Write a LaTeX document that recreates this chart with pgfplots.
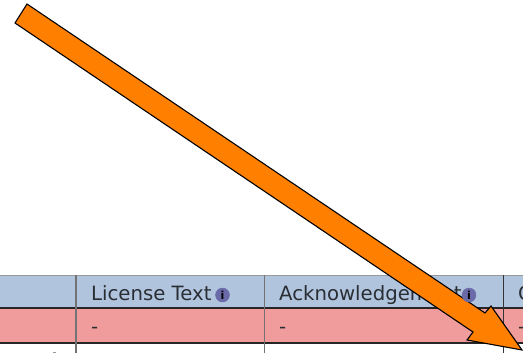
\documentclass[border=0pt]{standalone}
\usepackage{pgfplots}
\pgfplotsset{compat=1.18}
\usepackage{fontspec}
\setmainfont{DejaVu Sans}
\definecolor{hdr}{HTML}{B0C4DE}
\definecolor{rowred}{HTML}{F09C9C}
\definecolor{arrowc}{HTML}{FF8000}
\definecolor{info}{HTML}{6A6AA8}
\definecolor{txt}{HTML}{2A2E33}
\begin{document}
\begin{tikzpicture}
\path[use as bounding box,clip] (0,0) rectangle (523bp,353bp);
\begin{axis}[
  at={(0,0)},anchor=south west,
  width=523bp,height=353bp,scale only axis,
  xmin=0,xmax=523,ymin=0,ymax=353,y dir=reverse,
  hide axis,clip=true,
]
% table fills
\addplot[draw=none,fill=hdr] coordinates {(0,275) (523,275) (523,308) (0,308)} -- cycle;
\addplot[draw=none,fill=rowred] coordinates {(0,308) (523,308) (523,343) (0,343)} -- cycle;
% table lines
\addplot[draw=black!40,line width=0.9bp] coordinates {(0,275) (523,275)};
\addplot[draw=black!85,line width=1.1bp] coordinates {(0,308) (523,308)};
\addplot[draw=black!85,line width=1.3bp] coordinates {(0,343) (523,343)};
\addplot[draw=black!55,line width=1.8bp] coordinates {(76,275) (76,353)};
\addplot[draw=black!55,line width=1.6bp] coordinates {(264.5,275) (264.5,353)};
\addplot[draw=black!80,line width=1bp] coordinates {(503.5,275) (503.5,353)};
\addplot[draw=black!40,line width=1.5bp] coordinates {(53,352.5) (56,352.5)};
% text
\node[anchor=base west,inner sep=0pt,text=txt,font=\fontsize{19.7bp}{20bp}\selectfont] at (axis cs:91,300) {License Text};
\node[anchor=base west,inner sep=0pt,text=txt,font=\fontsize{19.7bp}{20bp}\selectfont] at (axis cs:279,300) {Acknowledgement};
\node[anchor=base west,inner sep=0pt,text=txt,font=\fontsize{19.7bp}{20bp}\selectfont] at (axis cs:518,300) {C};
\node[anchor=base west,inner sep=0pt,text=txt,font=\fontsize{19.7bp}{20bp}\selectfont] at (axis cs:91,333) {-};
\node[anchor=base west,inner sep=0pt,text=txt,font=\fontsize{19.7bp}{20bp}\selectfont] at (axis cs:279,333) {-};
\node[anchor=base west,inner sep=0pt,text=txt,font=\fontsize{19.7bp}{20bp}\selectfont] at (axis cs:518,333) {-};
% info icons
\addplot[only marks,mark=*,mark size=7bp,mark options={fill=info,draw=info}] coordinates {(222.5,295) (469,295)};
\addplot[only marks,mark=text,text mark={\bfseries\fontsize{11bp}{11bp}\selectfont i},mark options={text=white,white}] coordinates {(222.5,295) (469,295)};
% arrow
\addplot[draw=black,line width=1.1bp,fill=arrowc,line join=miter] coordinates {
 (27,4) (485,313) (491,306) (522,350) (467,340) (473,332) (15,23)} -- cycle;
\end{axis}
\end{tikzpicture}
\end{document}
